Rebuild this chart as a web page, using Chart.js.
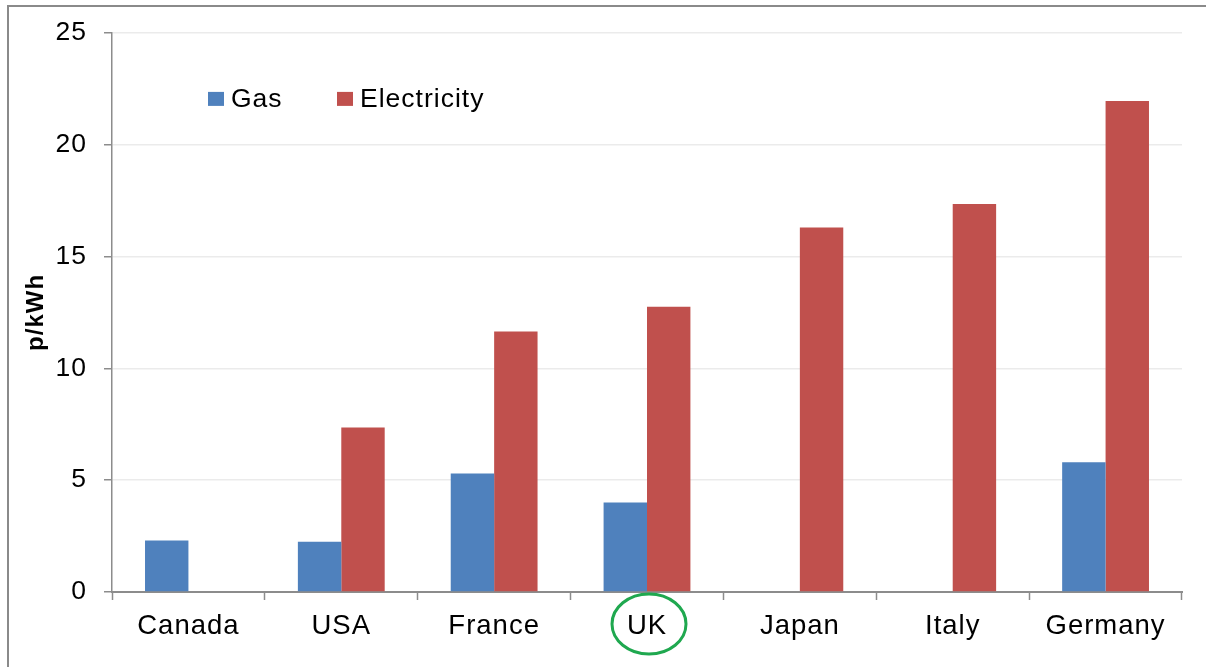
<!DOCTYPE html>
<html>
<head>
<meta charset="utf-8">
<script src="https://cdn.jsdelivr.net/npm/chart.js@4.4.1/dist/chart.umd.min.js"></script>
<style>
    html, body { margin: 0; padding: 0; background: #fff; overflow: hidden; }
    #wrap { position: relative; width: 1206px; height: 667px; }
    #frame { position: absolute; left: 7px; top: 5px; width: 1300px; height: 800px; border: 2px solid #8a8a8a; }
    #prices { position: absolute; left: 0; top: 0; }
</style>
</head>
<body>
<div id="wrap">
    <div id="frame"></div>
    <canvas id="prices" width="1206" height="667"></canvas>
</div>
<script>
    "use strict";

    // Domestic energy prices, pence per kWh
    var countries = ["Canada", "USA", "France", "UK", "Japan", "Italy", "Germany"];
    var gasPrices = [2.3, 2.25, 5.3, 4.0, null, null, 5.8];
    var electricityPrices = [null, 7.35, 11.65, 12.75, 16.3, 17.35, 21.95];
    var yTicks = [0, 5, 10, 15, 20, 25];
    var highlightCountry = "UK";

    var FONT = "'Liberation Sans', Arial, sans-serif";
    var AXIS_GREY = "#8c8c8c";

    // Letter spacing so the Excel-style text looks a little wider
    var spacing = {
        id: "spacing",
        beforeLayout: function (chart) { chart.ctx.letterSpacing = "1px"; },
        beforeDraw: function (chart) { chart.ctx.letterSpacing = "1px"; }
    };

    // Legend sits inside the plot, top left
    var insideLegend = {
        id: "insideLegend",
        afterDraw: function (chart) {
            var ctx = chart.ctx;
            var area = chart.chartArea;
            var x = area.left + 96;
            var y = area.top + 66;
            ctx.save();
            ctx.font = "26.5px " + FONT;
            ctx.textBaseline = "middle";
            chart.data.datasets.forEach(function (ds) {
                ctx.fillStyle = ds.backgroundColor;
                ctx.fillRect(x, y - 7, 16, 14);
                ctx.fillStyle = "#000";
                ctx.fillText(ds.label, x + 23, y + 1);
                x += 129;
            });
            ctx.restore();
        }
    };

    // Green ring round the UK label
    var ringLabel = {
        id: "ringLabel",
        afterDraw: function (chart) {
            var xs = chart.scales.x;
            var idx = countries.indexOf(highlightCountry);
            var cx = xs.getPixelForValue(idx) + 2;
            var cy = xs.top + 32;
            var ctx = chart.ctx;
            ctx.save();
            ctx.strokeStyle = "#1fa84f";
            ctx.lineWidth = 3;
            ctx.beginPath();
            ctx.ellipse(cx, cy, 37, 30, 0, 0, Math.PI * 2);
            ctx.stroke();
            ctx.restore();
        }
    };

    var ctx = document.getElementById("prices").getContext("2d");
    var pricesChart = new Chart(ctx, {
        type: "bar",
        data: {
            labels: countries,
            datasets: [{
                    label: "Gas",
                    data: gasPrices,
                    backgroundColor: "#4f81bd"
                },
                {
                    label: "Electricity",
                    data: electricityPrices,
                    backgroundColor: "#c0504d"
                }
            ]
        },
        options: {
            responsive: false,
            animation: false,
            layout: {
                padding: { left: 0, right: 24, top: 31, bottom: 0 }
            },
            categoryPercentage: 0.568,
            barPercentage: 1.0,
            plugins: {
                legend: { display: false },
                tooltip: { enabled: false }
            },
            scales: {
                x: {
                    offset: true,
                    grid: {
                        offset: true,
                        drawOnChartArea: false,
                        drawTicks: true,
                        tickLength: 8,
                        tickColor: AXIS_GREY,
                        tickWidth: 1.5
                    },
                    border: { color: AXIS_GREY, width: 2 },
                    ticks: {
                        color: "#000",
                        font: { family: FONT, size: 27.5 },
                        padding: 10,
                        autoSkip: false,
                        maxRotation: 0
                    },
                    afterFit: function (scale) { scale.height = 75; }
                },
                y: {
                    min: 0,
                    max: 25,
                    afterBuildTicks: function (scale) {
                        scale.ticks = yTicks.map(function (v) { return { value: v }; });
                    },
                    grid: {
                        color: "#ebebeb",
                        lineWidth: 1.5,
                        tickLength: 8,
                        tickColor: AXIS_GREY,
                        tickWidth: 1.5
                    },
                    border: { color: AXIS_GREY, width: 1.5 },
                    ticks: {
                        color: "#000",
                        font: { family: FONT, size: 26.5 },
                        padding: 17
                    },
                    title: {
                        display: true,
                        text: "p/kWh",
                        color: "#000",
                        font: { family: FONT, size: 24, weight: "bold" },
                        padding: { top: 22, bottom: 0 }
                    },
                    afterFit: function (scale) { scale.width = 112; }
                }
            }
        },
        plugins: [spacing, insideLegend, ringLabel]
    });
</script>
</body>
</html>
